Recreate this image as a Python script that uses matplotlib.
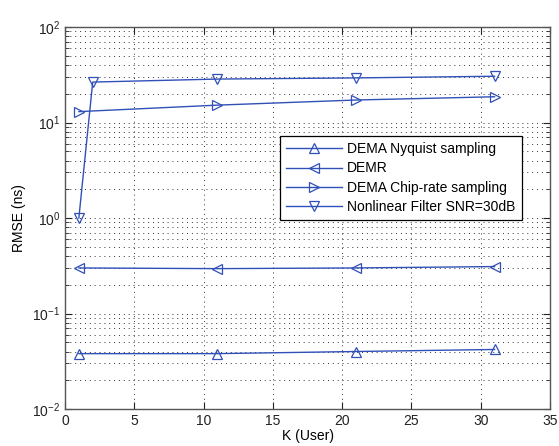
import matplotlib.pyplot as plt
from matplotlib.ticker import LogLocator, NullFormatter

plt.rcParams['font.family'] = ['Liberation Sans', 'DejaVu Sans']
plt.rcParams['mathtext.fontset'] = 'custom'
plt.rcParams['mathtext.rm'] = 'Liberation Sans'

k_users = [1, 11, 21, 31]
k_nonlinear = [1, 2, 11, 21, 31]

dema_nyquist = [0.038, 0.038, 0.040, 0.042]
demr = [0.30, 0.295, 0.30, 0.31]
dema_chip = [13.0, 15.2, 17.2, 18.6]
nonlinear = [1.0, 26.5, 28.5, 29.3, 30.5]

labels = ['DEMA Nyquist sampling', 'DEMR', 'DEMA Chip-rate sampling',
          'Nonlinear Filter SNR=30dB']
color = '#3050b8'

fig = plt.figure(figsize=(5.59, 4.46), dpi=100)
ax = fig.add_axes([65 / 559, 1 - 409 / 446, 485 / 559, 382 / 446])

style = dict(color=color, lw=1.0, markersize=6.5, markerfacecolor='none',
             markeredgecolor=color, markeredgewidth=0.9)
ax.plot(k_users, dema_nyquist, marker='^', label=labels[0], **style)
ax.plot(k_users, demr, marker='<', label=labels[1], **style)
ax.plot(k_users, dema_chip, marker='>', label=labels[2], **style)
ax.plot(k_nonlinear, nonlinear, marker='v', label=labels[3], **style)

ax.set_yscale('log')
ax.set_xlim(0, 35)
ax.set_ylim(1e-2, 1e2)
ax.set_xticks(range(0, 36, 5))
ax.yaxis.set_major_locator(LogLocator(base=10, numticks=10))
ax.yaxis.set_minor_locator(LogLocator(base=10, subs=range(2, 10), numticks=20))
ax.yaxis.set_minor_formatter(NullFormatter())

dots = (0, (1, 4))
ax.grid(True, which='major', color='#333333', linestyle=dots, linewidth=0.7)
ax.grid(True, which='minor', axis='y', color='#333333', linestyle=dots, linewidth=0.7)
ax.set_axisbelow(True)
ax.tick_params(which='both', direction='in', top=True, right=True,
               labelsize=10, colors='#222222')
ax.tick_params(which='major', length=5)
ax.tick_params(which='minor', length=3)
for s in ax.spines.values():
    s.set_color('#555555')
    s.set_linewidth(1.0)

ax.set_xlabel('K (User)', fontsize=10, labelpad=1)
ax.set_ylabel('RMSE (ns)', fontsize=10, labelpad=4)

leg = ax.legend(loc='upper left', bbox_to_anchor=(0.443, 0.715), fontsize=10,
                frameon=True, fancybox=False, edgecolor='black',
                framealpha=1, borderpad=0.45, handlelength=4.0,
                labelspacing=0.38, handletextpad=0.4, borderaxespad=0)
leg.get_frame().set_linewidth(0.9)

fig.savefig('out.png', dpi=100)
